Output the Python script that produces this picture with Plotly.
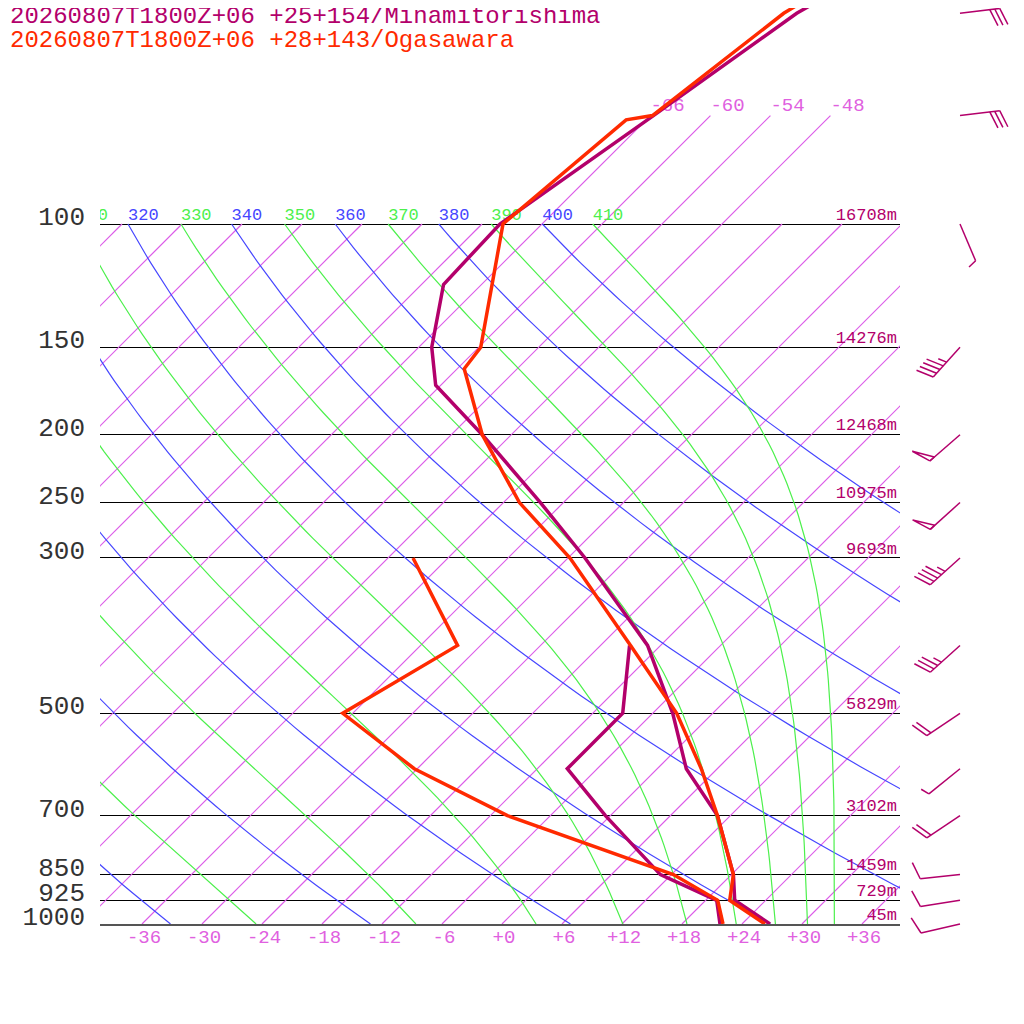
import numpy as np
import plotly.graph_objects as go

# sounding data, pressure in hPa, temperatures in deg C
mina_p = [1000, 925, 850, 700, 600, 500, 400, 300, 250, 200, 170, 150, 122, 100, 70, 50, 30]
mina_t = [26.8, 20.9, 18.2, 10.7, 2.9, -4.0, -13.3, -28.3, -38.3, -50.9, -60.5, -64.7, -69.8, -70.2, -65.7, -61.6, -50.0]
mina_dp = [1000, 925, 850, 700, 600, 500, 400]
mina_td = [21.8, 19.1, 10.9, -0.5, -9.0, -9.0, -15.1]

oga_p = [1000, 925, 850, 700, 600, 500, 400, 300, 250, 200, 161, 150, 100, 71, 70, 50, 30]
oga_t = [26.3, 20.4, 18.2, 10.7, 4.4, -3.6, -15.0, -29.8, -40.4, -50.9, -59.3, -59.8, -69.9, -68.0, -65.8, -62.9, -52.9]
oga_dp = [1000, 925, 850, 700, 600, 500, 400, 300]
oga_td = [22.1, 19.2, 12.2, -10.3, -24.3, -37.0, -32.3, -45.5]

# geopotential heights (Minamitorishima)
std_p = [1000, 925, 850, 700, 500, 300, 250, 200, 150, 100]
std_z = [45, 729, 1459, 3102, 5829, 9693, 10975, 12468, 14276, 16708]

# winds (Minamitorishima), direction deg, speed kt
wind_p = [1000, 925, 850, 700, 600, 500, 400, 300, 250, 200, 150, 100, 70, 50]
wind_dir = [257, 261, 264, 236, 231, 236, 228, 228, 228, 229, 222, 157, 83, 83]
wind_kt = [10, 10, 10, 20, 5, 20, 35, 45, 50, 50, 45, 5, 30, 30]

isotherms = list(range(-108, 37, 6))
upper_isotherms = [-66, -60, -54, -48]
dry_thetas = list(range(240, 401, 20))
moist_thetas = list(range(250, 411, 20))
temp_ticks = list(range(-36, 37, 6))

title_mina = "20260807T1800Z+06 +25+154/Minamitorishima"
title_oga = "20260807T1800Z+06 +28+143/Ogasawara"

PURPLE = "#b3006b"
ORANGE = "#ff2a00"
ISO = "#dc5ce8"
BLUE = "#4646ff"
GREEN = "#4cf04c"
PINK = "#e060e0"
FONT = "Liberation Mono"

# the page body keeps its 8px margin, so the figure is 1008 px and everything is laid out
# in page pixels minus that offset
FIG = 1008
OFF = 8
SKEW = 70.0                      # deg C per decade of pressure (10 px/deg, 700 px/decade)
LOG_TOP = 3 - (924 - OFF) / 700  # pressure at top edge of the figure
X_MIN, X_MAX = -40.2, 39.8


def fx(px):
    return (px - OFF) / FIG


def fy(py):
    return 1 - (py - OFF) / FIG


def skew(t, p):
    return np.asarray(t, float) + SKEW * np.log10(1000.0 / np.asarray(p, float))


def theta_e(tc, p):
    tk = tc + 273.15
    es = 6.112 * np.exp(17.67 * tc / (tc + 243.5))
    r = 622.0 * es / (p - es)
    return tk * (1000.0 / p) ** (0.2854 * (1 - 0.28e-3 * r)) * \
        np.exp((3.376 / tk - 0.00254) * r * (1 + 0.81e-3 * r))


def moist_temp(te, p):
    lo = np.full_like(p, -150.0)
    hi = np.full_like(p, 40.0)
    for _ in range(60):
        mid = (lo + hi) / 2
        up = theta_e(mid, p) > te
        hi = np.where(up, mid, hi)
        lo = np.where(up, lo, mid)
    return (lo + hi) / 2


fig = go.Figure()
pp = np.logspace(3, 2, 90)

# isotherms
xs, ys = [], []
for t in isotherms:
    top = 70.0 if t in upper_isotherms else 100.0
    xs += [float(t), float(skew(t, top)), None]
    ys += [1000.0, top, None]
fig.add_trace(go.Scatter(x=xs, y=ys, mode="lines", line=dict(color=ISO, width=1.2),
                         hoverinfo="skip"))
fig.add_trace(go.Scatter(
    x=skew(upper_isotherms, [70] * len(upper_isotherms)), y=[70] * len(upper_isotherms),
    mode="text", text=[str(t) for t in upper_isotherms], textposition="top right",
    textfont=dict(family=FONT, size=19, color=PINK), hoverinfo="skip"))

# dry adiabats
xs, ys = [], []
for th in dry_thetas:
    t = th * (pp / 1000.0) ** 0.2857 - 273.15
    xs += list(skew(t, pp)) + [None]
    ys += list(pp) + [None]
fig.add_trace(go.Scatter(x=xs, y=ys, mode="lines", line=dict(color=BLUE, width=1.2), hoverinfo="skip"))

# moist adiabats
xs, ys, top_x = [], [], []
for te in moist_thetas:
    t = moist_temp(te, pp)
    xs += list(skew(t, pp)) + [None]
    ys += list(pp) + [None]
    top_x.append(float(skew(t[-1], pp[-1])))
fig.add_trace(go.Scatter(x=xs, y=ys, mode="lines", line=dict(color=GREEN, width=1.2), hoverinfo="skip"))

# theta labels along 100 hPa (only those that reach into the diagram)
dry_top = [float(skew(th * 0.1 ** 0.2857 - 273.15, 100)) for th in dry_thetas]
dry_lab = [(x, th) for x, th in zip(dry_top, dry_thetas) if x > X_MIN - 3.5]
moist_lab = [(x, th) for x, th in zip(top_x, moist_thetas) if x > X_MIN - 3.5]
fig.add_trace(go.Scatter(x=[x for x, _ in dry_lab], y=[100] * len(dry_lab), mode="text",
                         text=[str(th) for _, th in dry_lab], textposition="top right",
                         textfont=dict(family=FONT, size=17, color=BLUE), hoverinfo="skip"))
fig.add_trace(go.Scatter(x=[x for x, _ in moist_lab], y=[100] * len(moist_lab), mode="text",
                         text=[str(th) for _, th in moist_lab], textposition="top right",
                         textfont=dict(family=FONT, size=17, color=GREEN), hoverinfo="skip"))

# height labels
fig.add_trace(go.Scatter(x=[X_MAX - 0.3] * len(std_p), y=std_p, mode="text",
                         text=[f"{z}m" for z in std_z], textposition="top left",
                         textfont=dict(family=FONT, size=17, color=PURPLE), hoverinfo="skip"))

# soundings
fig.add_trace(go.Scatter(x=skew(mina_t, mina_p), y=mina_p, mode="lines",
                         line=dict(color=PURPLE, width=3.5)))
fig.add_trace(go.Scatter(x=skew(mina_td, mina_dp), y=mina_dp, mode="lines",
                         line=dict(color=PURPLE, width=3.5)))
fig.add_trace(go.Scatter(x=skew(oga_t, oga_p), y=oga_p, mode="lines",
                         line=dict(color=ORANGE, width=3.5)))
fig.add_trace(go.Scatter(x=skew(oga_td, oga_dp), y=oga_dp, mode="lines",
                         line=dict(color=ORANGE, width=3.5)))


# wind barbs, drawn on a second axis pair to the right of the diagram
def barb(p0, d, spd, x0=45.8):
    s = np.array([np.sin(np.radians(d)), -np.cos(np.radians(d))])
    n = np.array([-s[1], s[0]])
    a = np.radians(70)
    b = np.cos(a) * s + np.sin(a) * n
    segs = [[(0, 0), tuple(40 * s)]]
    pos = 40.0
    rest = int(round(spd / 5.0)) * 5
    for _ in range(rest // 50):
        P = pos * s
        segs.append([tuple(P), tuple(P + 20 * b), tuple((pos - 6) * s), tuple(P)])
        pos -= 9
    rest %= 50
    for _ in range(rest // 10):
        P = pos * s
        segs.append([tuple(P), tuple(P + 18 * b)])
        pos -= 5
    if rest % 10 >= 5:
        P = pos * s
        segs.append([tuple(P), tuple(P + 9 * b)])
    bx, by = [], []
    for seg in segs:
        for dx, dy in seg:
            bx.append(x0 + dx / 10.0)
            by.append(p0 * 10 ** (dy / 700.0))
        bx.append(None)
        by.append(None)
    return bx, by


bx, by = [], []
for p, d, v in zip(wind_p, wind_dir, wind_kt):
    x1, y1 = barb(p, d, v)
    bx += x1
    by += y1
fig.add_trace(go.Scatter(x=bx, y=by, mode="lines", line=dict(color=PURPLE, width=1.5),
                         xaxis="x2", yaxis="y2", hoverinfo="skip"))

fig.update_layout(
    width=FIG, height=FIG,
    margin=dict(l=0, r=0, t=0, b=0, autoexpand=False),
    template="none",
    paper_bgcolor="white",
    plot_bgcolor="rgba(0,0,0,0)",
    showlegend=False,
    font=dict(family=FONT),
    xaxis=dict(domain=[fx(100), fx(900)], range=[X_MIN, X_MAX],
               showgrid=False, zeroline=False, ticks="",
               tickvals=temp_ticks,
               ticktext=[f"{t:+d}" if t >= 0 else str(t) for t in temp_ticks],
               tickfont=dict(family=FONT, size=19, color=PINK),
               ticklabelstandoff=-6, ticklabelshift=2,
               showline=True, linecolor="#555555", linewidth=2, mirror=False, anchor="y"),
    yaxis=dict(domain=[fy(924), 1], type="log",
               range=[3, LOG_TOP],
               showgrid=True, gridcolor="black", gridwidth=1.3, zeroline=False,
               showline=False, ticks="", tickvals=std_p, ticktext=[str(p) for p in std_p],
               tickfont=dict(family=FONT, size=26, color="#333333"),
               ticklabelshift=8, ticklabelstandoff=14, anchor="x"),
    xaxis2=dict(domain=[fx(900), 1], range=[X_MAX, X_MAX + (1016 - 900) / 10],
                visible=False, anchor="y2"),
    yaxis2=dict(domain=[0, 1], type="log", range=[3 + (1016 - 924) / 700, LOG_TOP],
                visible=False, anchor="x2"),
    annotations=[
        dict(text=title_mina, xref="paper", yref="paper", x=fx(8), y=fy(17),
             xanchor="left", yanchor="middle", showarrow=False,
             font=dict(family=FONT, size=24, color=PURPLE)),
        dict(text=title_oga, xref="paper", yref="paper", x=fx(8), y=fy(41),
             xanchor="left", yanchor="middle", showarrow=False,
             font=dict(family=FONT, size=24, color=ORANGE)),
    ],
)

fig.write_html("out.html")
